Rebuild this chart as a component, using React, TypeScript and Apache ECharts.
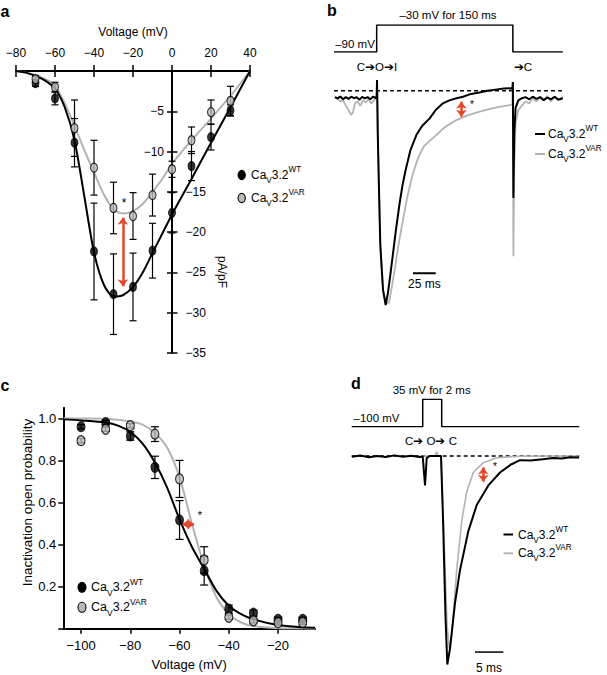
import React, { useEffect, useRef } from 'react';
import * as echarts from 'echarts';

const FONT = "'Liberation Sans', Arial, Helvetica, sans-serif";
const RED = '#e4462a';
const GREY_LINE = '#b3b3b3';
const GREY_FILL = '#bababa';

// ---------- Panel a : I-V ----------
const A_V = [-70, -60, -50, -40, -30, -20, -10, 0, 10, 20, 30];
const A_WT = [-1.5, -3.4, -8.9, -22.4, -27.7, -26.8, -22.3, -17.6, -11.8, -8.2, -4.9];
const A_WT_ERR = [0.4, 0.8, 3.0, 6.0, 5.0, 4.2, 3.4, 2.5, 1.8, 1.6, 0.7];
const A_VAR = [-1.0, -2.0, -7.1, -12.0, -17.0, -18.0, -15.4, -12.2, -8.6, -5.1, -3.7];
const A_VAR_ERR = [0.4, 0.6, 3.5, 3.4, 3.2, 2.9, 2.6, 1.0, 1.65, 1.5, 1.8];
const A_FIT_V = [-80, -75, -70, -65, -60, -55, -50, -45, -40, -35, -30, -25, -20, -15, -10, -5, 0, 10, 20, 30, 40];
const A_FIT_WT = [0, -0.2, -0.6, -1.2, -2.2, -4.5, -8.6, -15.5, -22.5, -26.5, -28, -27.8, -26.8, -25, -22.6, -20.2, -17.8, -13.4, -8.9, -4.5, 0];
const A_FIT_VAR = [0, -0.2, -0.5, -1.0, -1.8, -4.0, -6.8, -9.8, -12.6, -15.3, -17.2, -17.7, -17.4, -16.5, -15, -13.4, -11.5, -8.6, -5.9, -3.1, 0];
const A_ARROW_V = -25.2;
const A_ARROW_I = [-18.2, -26.7];
const A_LEFT_LABELS = [-5, -10];
const A_RIGHT_LABELS = [-15, -20, -25, -30, -35];

// ---------- Panel b : long pulse traces ----------
const B_PROTO_T = [-47, 0, 0, 150, 150, 205];
const B_PROTO_V = [-90, -90, -30, -30, -90, -90];
const B_WT_T = [-46, -43, -40, -37, -34, -31, -28, -25, -22, -19, -16, -13, -10, -7, -4, -1,
  0, 0.4, 1.2, 2.5, 4, 7, 9.9, 12.4, 15, 18, 21.5, 25.3, 28.5, 31.9, 37, 43.7, 50, 58.4, 65, 73, 80, 88, 95, 104, 113, 122, 131, 140, 146.5, 149.5,
  150, 150.6, 151.5, 153, 156, 160, 164, 168, 172, 176, 180, 184, 188, 192, 196, 200, 205];
const B_WT_I = [-0.03, -0.036, -0.027, -0.04, -0.03, -0.038, -0.028, -0.035, -0.03, -0.042, -0.029, -0.036, -0.03, -0.04, -0.028, -0.034,
  -0.03, 0.05, -0.2, -0.45, -0.72, -0.93, -1.0, -0.944, -0.86, -0.759, -0.64, -0.524, -0.44, -0.37, -0.28, -0.207, -0.165, -0.129, -0.09, -0.059, -0.045, -0.035, -0.028, -0.015, -0.008, 0.0, 0.005, 0.01, 0.011, 0.01,
  0.04, -0.5, -0.2, -0.08, -0.045, -0.035, -0.03, -0.04, -0.028, -0.038, -0.03, -0.044, -0.032, -0.04, -0.028, -0.042, -0.035];
const B_VAR_T = [-46, -43, -40, -37, -34, -31, -28, -26, -24, -21, -18, -15, -12, -9, -6, -3, -1,
  0, 0.4, 1.2, 2.5, 4, 7, 10, 13.5, 16.5, 19.8, 24, 29, 34, 40, 46, 52, 58, 65.7, 75, 87.8, 100, 113.4, 125, 135, 146.5, 149.5,
  150, 150.6, 151.5, 153, 156, 160, 164, 168, 172, 176, 180, 184, 188, 192, 196, 200, 205];
const B_VAR_I = [-0.03, -0.04, -0.05, -0.045, -0.07, -0.09, -0.114, -0.1, -0.06, -0.05, -0.07, -0.045, -0.055, -0.04, -0.06, -0.045, -0.035,
  -0.03, 0.05, -0.2, -0.45, -0.72, -0.93, -0.99, -0.99, -0.92, -0.837, -0.72, -0.603, -0.49, -0.385, -0.31, -0.26, -0.235, -0.207, -0.17, -0.137, -0.115, -0.098, -0.085, -0.075, -0.067, -0.065,
  0.04, -0.772, -0.35, -0.15, -0.09, -0.07, -0.05, -0.06, -0.035, -0.05, -0.03, -0.045, -0.025, -0.05, -0.03, -0.04, -0.03];
const B_BASE_T = [-47, 205];
const B_ARROW_T = 93.3;
const B_ARROW_I = [-0.051, -0.121];
const B_SCALE_T = [40, 65];
const B_SCALE_I = -0.852;

// ---------- Panel c : inactivation ----------
const C_V = [-100, -90, -80, -70, -60, -50, -40, -30, -20, -10];
const C_WT = [0.96, 0.98, 0.916, 0.767, 0.517, 0.276, 0.093, 0.074, 0.045, 0.045];
const C_WT_ERR = [0.01, 0.01, 0.02, 0.053, 0.092, 0.068, 0.02, 0.015, 0.01, 0.01];
const C_VAR = [0.894, 0.948, 0.965, 0.925, 0.712, 0.327, 0.055, 0.038, 0.029, 0.03];
const C_VAR_ERR = [0.01, 0.01, 0.01, 0.035, 0.088, 0.063, 0.01, 0.01, 0.01, 0.01];
const C_FIT_V = [-107, -100, -90, -85, -80, -75, -70, -65, -60, -55, -50, -45, -40, -35, -30, -20, -10, -5];
const C_FIT_WT = [0.995, 0.99, 0.98, 0.965, 0.935, 0.88, 0.79, 0.67, 0.52, 0.39, 0.285, 0.18, 0.11, 0.07, 0.045, 0.018, 0.007, 0.005];
const C_FIT_VAR = [1.0, 0.999, 0.998, 0.993, 0.985, 0.97, 0.93, 0.86, 0.72, 0.5, 0.3, 0.15, 0.07, 0.03, 0.013, 0.003, 0.001, 0.0];
const C_X_TICKS = [-100, -80, -60, -40, -20];
const C_ARROW_V = [-58.8, -54.1];
const C_ARROW_P = 0.497;

// ---------- Panel d : short pulse traces ----------
const D_PROTO_T = [-12.53, 0, 0, 3.35, 3.35, 27.63];
const D_PROTO_V = [-100, -100, 35, 35, -100, -100];
const D_WT_T = [-12.5, -11, -9.5, -8, -6.5, -5, -3.5, -2, -0.6, 0, 0.41, 0.7, 1.2, 3.1, 3.23, 3.58, 4.02, 4.34, 4.82, 5.7, 6.58, 8.05, 9.53, 11.58, 13.64, 15.5, 17.17, 19, 21.2, 23, 24.5, 26, 27.6];
const D_WT_I = [-0.004, 0.002, -0.006, 0.0, -0.005, 0.003, -0.004, 0.001, -0.005, -0.002, -0.141, -0.01, 0.0, 0.0, 0.0, -0.3, -0.77, -1.0, -0.922, -0.704, -0.547, -0.36, -0.235, -0.141, -0.079, -0.042, -0.02, -0.022, -0.016, -0.01, -0.012, -0.006, -0.007];
const D_VAR_T = [0, 2.2, 2.45, 2.7, 3.1, 3.23, 3.76, 4.29, 4.69, 5.12, 6.0, 6.88, 7.76, 8.93, 10.69, 13.06, 17.17, 22, 27.6];
const D_VAR_I = [0, 0, 0.02, 0, 0, 0, -0.39, -0.81, -0.922, -0.86, -0.547, -0.313, -0.172, -0.079, -0.032, -0.008, -0.001, 0, 0];
const D_BASE_T = [-12.53, 27.63];
const D_ARROW_T = 10.69;
const D_ARROW_I = [-0.055, -0.123];
const D_SCALE_T = [9.23, 14.23];
const D_SCALE_I = -0.94;

const zip = (a: number[], b: number[]) => a.map((v, i) => [v, b[i]]);
const minus = (v: number) => String(v).replace('-', '\u2212');

const errorBars = (xs: number[], ys: number[], errs: number[], xi: number, yi: number, cap: number) => ({
  type: 'custom',
  xAxisIndex: xi,
  yAxisIndex: yi,
  z: 3,
  silent: true,
  data: xs.map((x, i) => [x, ys[i] - errs[i], ys[i] + errs[i]]),
  renderItem: (_p: any, api: any) => {
    const lo = api.coord([api.value(0), api.value(1)]);
    const hi = api.coord([api.value(0), api.value(2)]);
    const st = { stroke: '#000', lineWidth: 1.2 };
    return {
      type: 'group',
      children: [
        { type: 'line', shape: { x1: lo[0], y1: lo[1], x2: hi[0], y2: hi[1] }, style: st },
        { type: 'line', shape: { x1: lo[0] - cap, y1: lo[1], x2: lo[0] + cap, y2: lo[1] }, style: st },
        { type: 'line', shape: { x1: hi[0] - cap, y1: hi[1], x2: hi[0] + cap, y2: hi[1] }, style: st },
      ],
    };
  },
});

const arrowLine = (p1: number[], p2: number[]) => ({
  silent: true,
  symbol: ['arrow', 'arrow'],
  symbolSize: [8, 7],
  label: { show: false },
  lineStyle: { color: RED, width: 2.5, type: 'solid' },
  emphasis: { disabled: true },
  data: [[{ coord: p1 }, { coord: p2 }]],
});

const txt = (x: number, y: number, text: string, size = 12, extra: any = {}) => ({
  type: 'text',
  x,
  y,
  silent: true,
  z: 50,
  style: { text, fill: '#000', fontSize: size, fontFamily: FONT, align: 'center', verticalAlign: 'middle', ...extra },
});

const caLabel = (x: number, y: number, sup: string, size = 12) => ({
  type: 'text',
  x,
  y,
  silent: true,
  z: 50,
  style: {
    text: `{n|Ca}{s|V}{n|3.2}{p|${sup}}`,
    align: 'left',
    verticalAlign: 'middle',
    rich: {
      n: { fontSize: size, fontFamily: FONT, fill: '#000', lineHeight: size + 7 },
      s: { fontSize: size * 0.68, fontFamily: FONT, fill: '#000', verticalAlign: 'bottom' },
      p: { fontSize: size * 0.68, fontFamily: FONT, fill: '#000', verticalAlign: 'top' },
    },
  },
});

const hLine = (x1: number, x2: number, y: number, color: string, w = 2) => ({
  type: 'line',
  silent: true,
  shape: { x1, y1: y, x2, y2: y },
  style: { stroke: color, lineWidth: w },
});

const dot = (cx: number, cy: number, fill: string, rx = 3.6, ry = 4.6) => ({
  type: 'ellipse',
  silent: true,
  shape: { cx, cy, rx, ry },
  style: { fill, stroke: '#000', lineWidth: 1.1 },
});

const hiddenX = (grid: number, min: number, max: number) => ({ type: 'value', gridIndex: grid, min, max, show: false });
const hiddenY = (grid: number, min: number, max: number) => ({ type: 'value', gridIndex: grid, min, max, show: false });

export default function App() {
  const ref = useRef<HTMLDivElement>(null);

  useEffect(() => {
    if (!ref.current) return;
    const chart = echarts.init(ref.current, undefined, { renderer: 'svg' });

    const axisLineStyle = { color: '#000', width: 2 };
    const tickStyle = { color: '#000', width: 1.5 };

    const option: any = {
      animation: false,
      backgroundColor: '#fff',
      textStyle: { fontFamily: FONT, color: '#000' },
      grid: [
        { left: 16, top: 71, width: 234, height: 282 }, // 0: a
        { left: 334, top: 25, width: 228.8, height: 27 }, // 1: b protocol
        { left: 334, top: 58.55, width: 228.8, height: 257.2 }, // 2: b current
        { left: 63.3, top: 407.8, width: 251.7, height: 221 }, // 3: c
        { left: 351.7, top: 399.3, width: 227.6, height: 27.4 }, // 4: d protocol
        { left: 351.7, top: 435.15, width: 227.6, height: 245.5 }, // 5: d current
        { left: 172, top: 71, width: 0.5, height: 282 }, // 6: a, y axis through V = 0
      ],
      xAxis: [
        {
          type: 'value', gridIndex: 0, min: -80, max: 40, interval: 20, position: 'top',
          axisLine: { onZero: false, lineStyle: axisLineStyle },
          axisTick: { length: 6, lineStyle: tickStyle },
          axisLabel: { fontSize: 12, margin: 12, color: '#000', formatter: minus },
          splitLine: { show: false },
          name: 'Voltage (mV)', nameLocation: 'middle', nameGap: 33,
          nameTextStyle: { fontSize: 12, color: '#000', fontFamily: FONT },
        },
        {
          type: 'value', gridIndex: 0, min: -80, max: 40, interval: 20, position: 'top',
          axisLine: { show: false, onZero: false },
          axisTick: { inside: true, length: 6, lineStyle: tickStyle },
          axisLabel: { show: false },
          splitLine: { show: false },
        },
        hiddenX(1, -47, 205),
        hiddenX(2, -47, 205),
        {
          type: 'value', gridIndex: 3, min: -107.2, max: -5,
          axisLine: { onZero: false, lineStyle: axisLineStyle },
          axisTick: { length: 5, lineStyle: tickStyle, customValues: C_X_TICKS },
          axisLabel: { fontSize: 13, margin: 10, color: '#000', formatter: minus, customValues: C_X_TICKS },
          splitLine: { show: false },
          name: 'Voltage (mV)', nameLocation: 'middle', nameGap: 29,
          nameTextStyle: { fontSize: 13, color: '#000', fontFamily: FONT },
        },
        hiddenX(4, -12.53, 27.63),
        hiddenX(5, -12.53, 27.63),
        hiddenX(6, 0, 1),
      ],
      yAxis: [
        hiddenY(0, -35, 0),
        {
          type: 'value', gridIndex: 6, min: -35, max: 0, interval: 5, position: 'left',
          axisLine: { onZero: false, lineStyle: axisLineStyle },
          axisTick: { length: 5, lineStyle: tickStyle },
          axisLabel: { fontSize: 12, margin: 8, color: '#000', formatter: minus, customValues: A_LEFT_LABELS },
          splitLine: { show: false },
        },
        hiddenY(1, -90, -30),
        hiddenY(2, -1.05, 0.15),
        {
          type: 'value', gridIndex: 3, min: 0, max: 1.05, interval: 0.2,
          axisLine: { onZero: false, lineStyle: axisLineStyle },
          axisTick: { length: 5, lineStyle: tickStyle },
          axisLabel: {
            fontSize: 13, margin: 7, color: '#000',
            formatter: (v: number) => (v === 0 ? '' : v.toFixed(1)),
          },
          splitLine: { show: false },
        },
        hiddenY(4, -100, 35),
        hiddenY(5, -1.05, 0.1),
        {
          type: 'value', gridIndex: 6, min: -35, max: 0, interval: 5, position: 'right',
          axisLine: { show: false, onZero: false },
          axisTick: { length: 5, lineStyle: tickStyle },
          axisLabel: { fontSize: 12, margin: 13, color: '#000', formatter: minus, customValues: A_RIGHT_LABELS },
          splitLine: { show: false },
        },
      ],
      series: [
        // ----- a -----
        {
          type: 'line', xAxisIndex: 0, yAxisIndex: 0, data: zip(A_FIT_V, A_FIT_VAR), smooth: 0.25,
          showSymbol: false, lineStyle: { color: GREY_LINE, width: 2 }, z: 2, silent: true,
        },
        {
          type: 'line', xAxisIndex: 0, yAxisIndex: 0, data: zip(A_FIT_V, A_FIT_WT), smooth: 0.25,
          showSymbol: false, lineStyle: { color: '#000', width: 2 }, z: 2, silent: true,
          markLine: arrowLine([A_ARROW_V, A_ARROW_I[0]], [A_ARROW_V, A_ARROW_I[1]]),
        },
        errorBars(A_V, A_WT, A_WT_ERR, 0, 0, 3.5),
        errorBars(A_V, A_VAR, A_VAR_ERR, 0, 0, 3.5),
        {
          type: 'scatter', xAxisIndex: 0, yAxisIndex: 0, data: zip(A_V, A_WT), symbol: 'circle', symbolSize: [7, 9],
          itemStyle: { color: '#000', borderColor: '#000', borderWidth: 1 }, z: 5, silent: true,
        },
        {
          type: 'scatter', xAxisIndex: 0, yAxisIndex: 0, data: zip(A_V, A_VAR), symbol: 'circle', symbolSize: [7, 9],
          itemStyle: { color: GREY_FILL, borderColor: '#000', borderWidth: 1.1 }, z: 6, silent: true,
        },
        // ----- b -----
        {
          type: 'line', xAxisIndex: 2, yAxisIndex: 2, data: zip(B_PROTO_T, B_PROTO_V), showSymbol: false,
          lineStyle: { color: '#000', width: 1.5 }, silent: true,
        },
        {
          type: 'line', xAxisIndex: 3, yAxisIndex: 3, data: zip(B_BASE_T, [0, 0]), showSymbol: false,
          lineStyle: { color: '#000', width: 1.5, type: [4, 3] }, silent: true, z: 1,
        },
        {
          type: 'line', xAxisIndex: 3, yAxisIndex: 3, data: zip(B_WT_T, B_WT_I), showSymbol: false,
          lineStyle: { color: '#000', width: 2 }, silent: true, z: 3,
        },
        {
          type: 'line', xAxisIndex: 3, yAxisIndex: 3, data: zip(B_VAR_T, B_VAR_I), showSymbol: false,
          lineStyle: { color: GREY_LINE, width: 1.8 }, silent: true, z: 2,
          markLine: arrowLine([B_ARROW_T, B_ARROW_I[0]], [B_ARROW_T, B_ARROW_I[1]]),
        },
        {
          type: 'line', xAxisIndex: 3, yAxisIndex: 3, data: zip(B_SCALE_T, [B_SCALE_I, B_SCALE_I]), showSymbol: false,
          lineStyle: { color: '#000', width: 2 }, silent: true,
        },
        // ----- c -----
        {
          type: 'line', xAxisIndex: 4, yAxisIndex: 4, data: zip(C_FIT_V, C_FIT_VAR), smooth: 0.3,
          showSymbol: false, lineStyle: { color: GREY_LINE, width: 2 }, z: 2, silent: true,
        },
        {
          type: 'line', xAxisIndex: 4, yAxisIndex: 4, data: zip(C_FIT_V, C_FIT_WT), smooth: 0.3,
          showSymbol: false, lineStyle: { color: '#000', width: 2 }, z: 2, silent: true,
          markLine: arrowLine([C_ARROW_V[0], C_ARROW_P], [C_ARROW_V[1], C_ARROW_P]),
        },
        errorBars(C_V, C_WT, C_WT_ERR, 4, 4, 4),
        errorBars(C_V, C_VAR, C_VAR_ERR, 4, 4, 4),
        {
          type: 'scatter', xAxisIndex: 4, yAxisIndex: 4, data: zip(C_V, C_WT), symbol: 'circle', symbolSize: [8, 10],
          itemStyle: { color: '#000', borderColor: '#000', borderWidth: 1 }, z: 5, silent: true,
        },
        {
          type: 'scatter', xAxisIndex: 4, yAxisIndex: 4, data: zip(C_V, C_VAR), symbol: 'circle', symbolSize: [8, 10],
          itemStyle: { color: GREY_FILL, borderColor: '#000', borderWidth: 1.2 }, z: 6, silent: true,
        },
        // ----- d -----
        {
          type: 'line', xAxisIndex: 5, yAxisIndex: 5, data: zip(D_PROTO_T, D_PROTO_V), showSymbol: false,
          lineStyle: { color: '#000', width: 1.5 }, silent: true,
        },
        {
          type: 'line', xAxisIndex: 6, yAxisIndex: 6, data: zip(D_BASE_T, [0, 0]), showSymbol: false,
          lineStyle: { color: '#000', width: 1.5, type: [4, 3] }, silent: true, z: 1,
        },
        {
          type: 'line', xAxisIndex: 6, yAxisIndex: 6, data: zip(D_VAR_T, D_VAR_I), showSymbol: false,
          lineStyle: { color: GREY_LINE, width: 1.6 }, silent: true, z: 2,
          markLine: arrowLine([D_ARROW_T, D_ARROW_I[0]], [D_ARROW_T, D_ARROW_I[1]]),
        },
        {
          type: 'line', xAxisIndex: 6, yAxisIndex: 6, data: zip(D_WT_T, D_WT_I), showSymbol: false,
          lineStyle: { color: '#000', width: 2 }, silent: true, z: 3,
        },
        {
          type: 'line', xAxisIndex: 6, yAxisIndex: 6, data: zip(D_SCALE_T, [D_SCALE_I, D_SCALE_I]), showSymbol: false,
          lineStyle: { color: '#000', width: 1.5 }, silent: true,
        },
      ],
      graphic: [
        // panel letters
        txt(5, 11, 'a', 16, { fontWeight: 'bold' }),
        txt(332, 10, 'b', 16, { fontWeight: 'bold' }),
        txt(5, 385, 'c', 16, { fontWeight: 'bold' }),
        txt(356, 383, 'd', 16, { fontWeight: 'bold' }),
        // panel a
        { ...txt(222, 272, 'pA/pF', 12), rotation: -Math.PI / 2 },
        txt(124, 203, '*', 12),
        dot(241.7, 175, '#000'),
        caLabel(251, 175, 'WT'),
        dot(241.7, 198, GREY_FILL),
        caLabel(251, 198, 'VAR'),
        // panel b
        txt(448, 15, '\u201330 mV for 150 ms', 11.5),
        txt(355, 44, '\u201390 mV', 11.5),
        txt(377, 67, 'C\u2794O\u2794I', 11.5),
        txt(523, 67, '\u2794C', 11.5),
        txt(472, 104, '*', 10),
        txt(424.3, 284.3, '25 ms', 12),
        hLine(535, 545, 134, '#000'),
        caLabel(548, 134, 'WT'),
        hLine(535, 545, 154, GREY_LINE),
        caLabel(548, 154, 'VAR'),
        // panel c
        { ...txt(27.5, 502.5, 'Inactivation open probability', 13.5), rotation: Math.PI / 2 },
        txt(200, 515, '*', 11),
        dot(82, 587.3, '#000', 4, 5),
        caLabel(91, 587.3, 'WT', 12.5),
        dot(82, 607.3, GREY_FILL, 4, 5),
        caLabel(91, 607.3, 'VAR', 12.5),
        // panel d
        txt(431.7, 390, '35 mV for 2 ms', 11.5),
        txt(376.5, 418, '\u2013100 mV', 11.5),
        txt(431, 441, 'C\u2794 O\u2794 C', 11.5),
        txt(495, 466, '*', 10),
        txt(489, 668, '5 ms', 12),
        hLine(503.5, 513, 534.5, '#000'),
        caLabel(518, 534.5, 'WT'),
        hLine(503.5, 513, 553.3, GREY_LINE),
        caLabel(518, 553.3, 'VAR'),
      ],
    };

    chart.setOption(option);
    return () => chart.dispose();
  }, []);

  return <div ref={ref} style={{ position: 'absolute', left: 0, top: 0, width: 607, height: 675 }} />;
}
